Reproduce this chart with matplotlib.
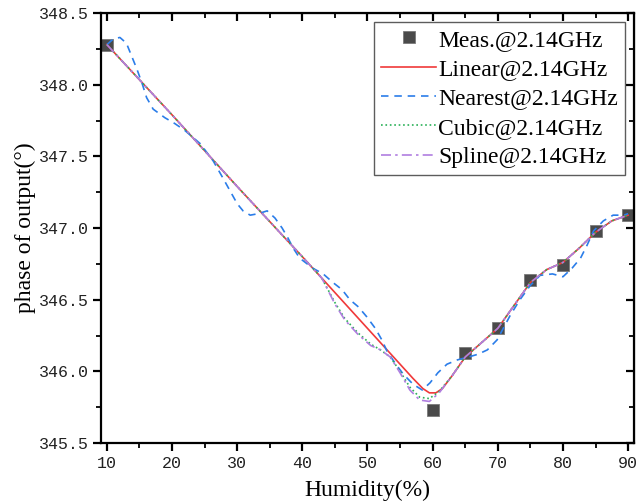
import matplotlib
matplotlib.use('Agg')
import matplotlib.pyplot as plt
from matplotlib.ticker import MultipleLocator

# measured points
meas_x = [10, 60, 65, 70, 75, 80, 85, 90]
meas_y = [348.28, 345.73, 346.13, 346.30, 346.64, 346.74, 346.98, 347.09]

# linear interpolation curve
lin_x = [10, 20, 30, 40, 50, 55, 57, 58.5, 59.5, 60.5, 61.5, 63, 65, 67.5,
         70, 72.5, 75, 77.5, 80, 82.5, 85, 87.5, 90]
lin_y = [348.28, 347.79, 347.29, 346.80, 346.30, 346.05, 345.95, 345.88, 345.85,
         345.85, 345.88, 345.97, 346.10, 346.20, 346.30, 346.46, 346.62, 346.71,
         346.76, 346.86, 346.97, 347.05, 347.09]

# nearest curve
near_x = [10, 11, 12, 13, 13.8, 14.6, 15.4, 16.1, 17.1, 18.9, 20.4, 22, 24.3,
          26.3, 27.8, 28.9, 30, 30.9, 32, 33.2, 34.6, 35.8, 36.9, 37.8, 38.6,
          39.6, 41.6, 43.2, 44.7, 46.1, 47.3, 48.6, 49.9, 51.2, 52.2, 53, 54.2,
          55.5, 57, 58.4, 59.6, 60.8, 62.2, 63.8, 65.5, 67, 68.4, 69.9, 71.9,
          73.4, 75, 76.5, 78.4, 80, 81.4, 82.7, 83.7, 84.7, 86.2, 87.7, 89.3, 90]
near_y = [348.28, 348.32, 348.33, 348.29, 348.20, 348.11, 348.01, 347.91, 347.83,
          347.77, 347.73, 347.68, 347.59, 347.47, 347.35, 347.26, 347.17, 347.12,
          347.09, 347.10, 347.12, 347.07, 347.00, 346.93, 346.86, 346.79, 346.72,
          346.68, 346.62, 346.57, 346.50, 346.45, 346.38, 346.30, 346.22, 346.14,
          346.06, 345.98, 345.91, 345.87, 345.92, 345.99, 346.05, 346.08, 346.10,
          346.12, 346.15, 346.22, 346.39, 346.50, 346.60, 346.67, 346.68, 346.66,
          346.72, 346.79, 346.88, 346.98, 347.05, 347.09, 347.09, 347.10]

# cubic curve
cub_x = [10, 20, 30, 40, 43, 45, 46.5, 48.5, 50.5, 52, 53.5, 55, 56.5, 58,
         59.5, 61, 63, 65, 67.5, 70, 72.5, 75, 77.5, 80, 82.5, 85, 87.5, 90]
cub_y = [348.28, 347.79, 347.29, 346.80, 346.65, 346.48, 346.37, 346.27, 346.19,
         346.15, 346.10, 346.00, 345.89, 345.82, 345.81, 345.86, 345.97, 346.10,
         346.20, 346.30, 346.46, 346.62, 346.71, 346.76, 346.86, 346.97, 347.05,
         347.09]

# spline curve
spl_x = [10, 20, 30, 40, 43, 45, 46.5, 48.5, 50.5, 52, 53.5, 55, 56.5, 58,
         59.5, 61, 63, 65, 67.5, 70, 72.5, 75, 77.5, 80, 82.5, 85, 87.5, 90]
spl_y = [348.28, 347.79, 347.29, 346.80, 346.65, 346.47, 346.36, 346.26, 346.18,
         346.15, 346.10, 345.99, 345.87, 345.80, 345.79, 345.85, 345.97, 346.10,
         346.20, 346.30, 346.46, 346.62, 346.71, 346.76, 346.86, 346.97, 347.05,
         347.09]

plt.rcParams['font.family'] = ['Liberation Serif', 'DejaVu Serif']

fig = plt.figure(figsize=(6.41, 5.04), dpi=100)
ax = fig.add_axes([0.1576, 0.121, 0.8314, 0.853])

ax.plot(meas_x, meas_y, 's', color='#4a4a4a', markersize=8.5,
        markeredgecolor='#7a7a7a', markeredgewidth=0.6,
        label='Meas.@2.14GHz', zorder=2, clip_on=False)
ax.plot(lin_x, lin_y, '-', color='#f0393a', lw=1.2, label='Linear@2.14GHz', zorder=3)
ax.plot(near_x, near_y, '--', color='#2b7de9', lw=1.2, dashes=(4.5, 3.5),
        label='Nearest@2.14GHz', zorder=3)
ax.plot(cub_x, cub_y, ':', color='#2ab057', lw=1.2, label='Cubic@2.14GHz', zorder=3)
ax.plot(spl_x, spl_y, '-.', color='#b07ee0', lw=1.2, dashes=(6, 2.5, 1.5, 2.5),
        label='Spline@2.14GHz', zorder=3)

ax.set_xlim(9.1, 90.9)
ax.set_ylim(345.5, 348.5)
ax.xaxis.set_major_locator(MultipleLocator(10))
ax.xaxis.set_minor_locator(MultipleLocator(5))
ax.yaxis.set_major_locator(MultipleLocator(0.5))
ax.yaxis.set_minor_locator(MultipleLocator(0.25))
ax.yaxis.set_major_formatter(plt.FormatStrFormatter('%.1f'))

for s in ax.spines.values():
    s.set_linewidth(1.6)
ax.tick_params(which='major', direction='out', length=6, width=1.6, labelsize=12,
               pad=3)
ax.tick_params(which='minor', direction='out', length=3.5, width=1.3)
for lab in ax.get_xticklabels() + ax.get_yticklabels():
    lab.set_family(['Liberation Mono', 'DejaVu Sans Mono'])
    lab.set_color('#222222')

# mirrored ticks on the top and right, pointing inward
top = ax.secondary_xaxis('top')
top.xaxis.set_major_locator(MultipleLocator(10))
top.xaxis.set_minor_locator(MultipleLocator(5))
top.tick_params(which='major', direction='in', length=6, width=1.6, labeltop=False)
top.tick_params(which='minor', direction='in', length=3.5, width=1.3)
right = ax.secondary_yaxis('right')
right.yaxis.set_major_locator(MultipleLocator(0.5))
right.yaxis.set_minor_locator(MultipleLocator(0.25))
right.tick_params(which='major', direction='in', length=6, width=1.6, labelright=False)
right.tick_params(which='minor', direction='in', length=3.5, width=1.3)

ax.set_xlabel('Humidity(%)', fontsize=17, labelpad=7)
ax.set_ylabel('phase of output(°)', fontsize=17, labelpad=2)

leg = ax.legend(loc='upper right', fontsize=17, frameon=True, fancybox=False,
                handlelength=2.3, handletextpad=0.1, labelspacing=0.33,
                borderpad=0.3, borderaxespad=0.38)
leg.get_frame().set_edgecolor('#333333')
leg.get_frame().set_linewidth(1.0)

fig.savefig('out.png', dpi=100)
